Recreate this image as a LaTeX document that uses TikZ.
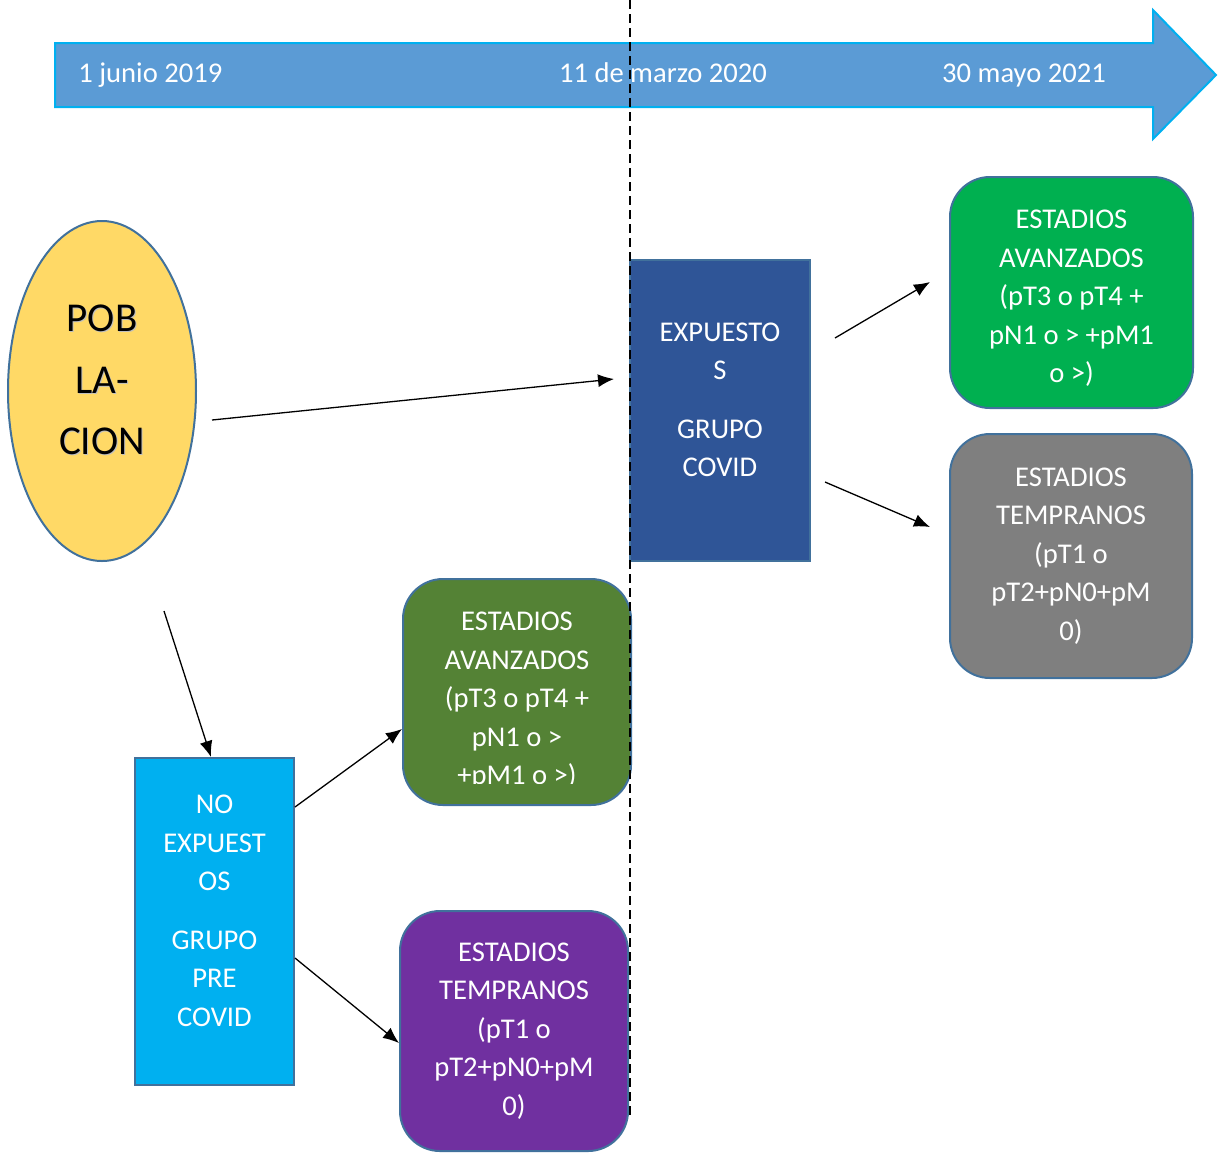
\documentclass[tikz,border=0pt]{standalone}
\usepackage{fontspec}
\setmainfont{Carlito}
\usepackage{tikz}
\usetikzlibrary{arrows.meta,shapes.geometric}

\definecolor{lineablue}{HTML}{5B9BD5}
\definecolor{bordecyan}{HTML}{00B0F0}
\definecolor{bordeazul}{HTML}{41719C}
\definecolor{amarillo}{HTML}{FFD966}
\definecolor{azulcovid}{HTML}{2F5597}
\definecolor{verdeclaro}{HTML}{00B050}
\definecolor{verdeosc}{HTML}{548235}
\definecolor{gris}{HTML}{7F7F7F}
\definecolor{morado}{HTML}{7030A0}

\tikzset{
  caja/.style={draw=bordeazul, line width=1pt, text=white, align=center, inner sep=0pt,
    font=\fontsize{14.3}{19.25}\selectfont},
  estadio/.style={caja, rounded corners=20pt},
  fecha/.style={text=white, font=\fontsize{14.3}{17}\selectfont, inner sep=0pt},
  flecha/.style={->, line width=0.65pt},
}

\begin{document}
\begin{tikzpicture}[x=0.5pt, y=-0.5pt, >={Latex[length=8pt,width=6.5pt]}]
%	\draw [help lines] (0,0) grid (1220,1153);
	\useasboundingbox (0,0) rectangle (1220,1153);
	%Linea de tiempo
	\draw[fill=lineablue, draw=bordecyan, line width=1pt]
		(55,43) -- (1153,43) -- (1153,10) -- (1216,75) -- (1153,139) -- (1153,107) -- (55,107) -- cycle;
	\node[fecha, anchor=base west] (f2019) at (78,82) {1 junio 2019};
	\node[fecha, anchor=base] (f2020) at (663,82) {11 de marzo 2020};
	\node[fecha, anchor=base] (f2021) at (1024,82) {30 mayo 2021};
	%Poblacion
	\node[ellipse, draw=bordeazul, fill=amarillo, line width=1pt, inner sep=0pt,
		minimum width=94pt, minimum height=170pt] (pob) at (102,391) {};
	\node[align=center, font=\fontsize{20.5}{30.75}\selectfont, text=black!25, inner sep=0pt]
		(pobsombra) at (103,381) {POB\\LA-\\CION};
	\node[align=center, font=\fontsize{20.5}{30.75}\selectfont, inner sep=0pt]
		(pobtxt) at (102,380) {POB\\LA-\\CION};
	%Grupos
	\node[caja, fill=azulcovid, minimum width=90pt, minimum height=150.5pt] (exp) at (720,410.5) {};
	\node[caja, draw=none] (exptxt) at (720,400) {EXPUESTO\\S\\[10pt]GRUPO\\COVID};
	\node[caja, fill=bordecyan, minimum width=79.5pt, minimum height=163.5pt] (noexp) at (214.5,921.5) {};
	\node[caja, draw=none] (noexptxt) at (214.5,911) {NO\\EXPUEST\\OS\\[10pt]GRUPO\\PRE\\COVID};
	%Estadios covid
	\node[estadio, fill=verdeclaro, minimum width=121.5pt, minimum height=115.5pt] (avzcov) at (1071.5,292.5) {};
	\node[caja, draw=none] (avzcovtxt) at (1071.5,298.5)
		{ESTADIOS\\AVANZADOS\\(pT3 o pT4 +\\pN1 o > +pM1\\o >)};
	\node[estadio, fill=gris, minimum width=121pt, minimum height=122pt] (tmpcov) at (1071,556)
		{ESTADIOS\\TEMPRANOS\\(pT1 o\\pT2+pN0+pM\\0)};
	%Estadios pre covid
	\node[estadio, fill=verdeosc, minimum width=114pt, minimum height=113pt] (avzpre) at (517,692) {};
	\begin{scope}
		\clip (403,579) rectangle (631,783);
		\node[caja, draw=none] (avzpretxt) at (517,701) {ESTADIOS\\AVANZADOS\\(pT3 o pT4 +\\pN1 o >\\+pM1 o >)};
	\end{scope}
	\node[estadio, fill=morado, minimum width=114pt, minimum height=120pt] (tmppre) at (514,1031)
		{ESTADIOS\\TEMPRANOS\\(pT1 o\\pT2+pN0+pM\\0)};
	%Conexiones
	\coordinate (a1) at (212,420);
	\coordinate (a2) at (614,379);
	\coordinate (b1) at (164,611);
	\coordinate (c1) at (835,338);
	\coordinate (c2) at (930,282);
	\coordinate (d1) at (825,482);
	\coordinate (d2) at (930,527);
	\draw[flecha] (a1) -- (a2);
	\draw[flecha] (b1) -- (noexp.north -| 211,0);
	\draw[flecha] (noexp.east |- 0,807) -- (avzpre.west |- 0,729);
	\draw[flecha] (noexp.east |- 0,958) -- (tmppre.west |- 0,1043);
	\draw[flecha] (c1) -- (c2);
	\draw[flecha] (d1) -- (d2);
	%Marzo 2020
	\draw[dash pattern=on 4.5pt off 2.5pt, line width=1pt] (630,0) -- (630,1117);
\end{tikzpicture}
\end{document}
